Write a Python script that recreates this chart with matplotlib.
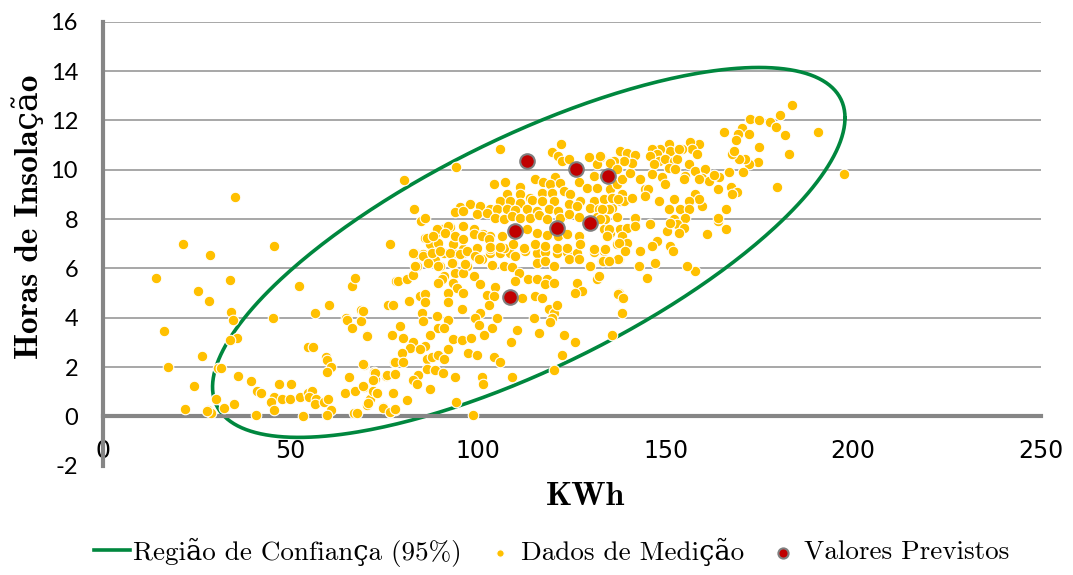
import matplotlib
matplotlib.use("Agg")
import matplotlib.pyplot as plt
import numpy as np

plt.rcParams['axes.unicode_minus'] = False

# pontos de medição - região esquerda (baixo consumo)
kwh_esq = [14.1, 16.3, 17.3, 21.3, 21.9, 24.3, 25.3, 26.4, 28.5, 28.3,
           33.9, 34.2, 34.7, 35.8, 33.9, 30.7, 31.5, 30.1, 28.0, 28.8,
           32.3, 35.0, 36.0, 39.5, 41.1, 42.2, 40.8, 45.6, 45.4, 52.3,
           56.6, 60.3, 54.7, 56.0, 47.0, 50.2, 45.6, 44.8, 45.6, 47.8,
           49.9, 52.6, 53.4, 54.7, 55.8, 55.0, 56.8, 56.6, 59.0, 60.0,
           60.8, 59.8, 59.5, 59.8, 60.8, 59.8, 65.6, 64.6, 67.2, 69.6,
           67.0, 67.8, 70.4, 71.2, 66.4, 67.2, 64.8, 65.1, 66.4, 68.8,
           68.8, 70.4, 69.6, 72.3, 72.6, 72.0, 73.1, 74.7, 76.6, 78.2,
           76.0, 77.4, 77.1, 77.6, 75.5, 77.4, 76.6, 77.9, 35.2, 80.2,
           27.7]
horas_esq = [5.6, 3.45, 2.0, 7.0, 0.3, 1.25, 5.1, 2.45, 6.55, 4.7,
             5.55, 4.25, 3.9, 3.2, 3.1, 1.95, 1.95, 0.7, 0.25, 0.15,
             0.35, 0.5, 1.65, 1.45, 1.05, 0.95, 0.05, 6.9, 4.0, 5.3,
             4.2, 4.5, 2.8, 2.8, 1.3, 1.3, 0.77, 0.6, 0.28, 0.7,
             0.7, 0.77, 0.0, 0.97, 1.05, 0.77, 0.7, 0.5, 0.6, 0.7,
             0.28, 0.05, 2.4, 2.3, 2.0, 1.8, 1.6, 0.97, 1.05, 1.2,
             0.12, 0.15, 0.48, 0.7, 5.3, 5.6, 4.0, 3.9, 3.6, 4.3,
             3.85, 3.3, 2.1, 1.8, 1.5, 1.05, 0.97, 0.37, 7.0, 5.5,
             4.5, 4.5, 3.3, 2.2, 1.65, 0.97, 0.17, 0.25, 8.9, 9.6,
             0.2]

# região central inferior
kwh_cen = [83.2, 85.4, 88.5, 90.8, 93.4, 96.1, 98.8, 101.0, 103.2, 105.9,
           108.5, 109.9, 112.6, 115.7, 117.9, 121.0, 123.7, 126.3, 130.8, 133.5,
           137.5, 83.6, 86.8, 88.5, 89.9, 93.4, 97.0, 103.7, 106.8, 109.0,
           110.8, 115.7, 117.9, 120.1, 124.1, 126.8, 129.9, 133.0, 134.3, 78.7,
           81.0, 82.7, 90.8, 90.3, 93.9, 96.1, 98.8, 89.4, 93.4, 94.3,
           100.5, 104.5, 109.9, 113.4, 115.7, 118.3, 117.9, 120.1, 126.3, 127.7,
           125.9, 131.7, 137.5, 138.4, 84.5, 85.9, 92.1, 96.1, 102.3, 104.1,
           76.1, 77.4, 81.7, 85.9, 92.1, 95.6, 100.5, 102.8, 111.7, 115.2,
           117.0, 118.8, 120.1, 121.0, 119.7, 119.2, 114.8, 105.0, 99.2, 100.1,
           103.7, 85.0, 85.4, 89.0, 92.1, 89.4, 90.8, 110.3, 116.1, 69.4,
           70.3, 77.0, 79.2, 80.1, 82.7, 81.9, 85.9, 87.2, 93.4, 95.6,
           98.0, 101.6, 108.8, 123.0, 125.9, 135.7, 138.4, 69.4, 79.6, 77.9,
           80.1, 84.5, 86.3, 87.6, 89.4, 90.8, 92.1, 97.4, 99.7, 104.1,
           105.9, 120.1, 122.3, 72.5, 72.1, 75.6, 77.9, 84.1, 82.7, 86.3,
           88.5, 90.6, 93.8, 83.6, 87.2, 101.0, 101.4, 109.0, 69.4, 73.0,
           77.4, 81.0, 70.7, 74.7, 76.5, 77.9, 94.1, 98.6]
horas_cen = [6.62, 6.58, 6.71, 6.64, 6.62, 6.62, 6.62, 6.40, 6.62, 6.62,
             6.64, 6.51, 6.71, 6.64, 6.67, 6.64, 6.67, 6.62, 6.67, 6.71,
             6.40, 6.10, 6.24, 6.35, 6.10, 6.21, 6.10, 6.13, 6.10, 6.04,
             5.81, 6.24, 6.31, 6.10, 6.40, 6.40, 6.10, 6.31, 6.31, 5.50,
             5.59, 5.73, 5.70, 5.56, 5.81, 5.81, 5.70, 5.43, 5.43, 5.19,
             5.36, 5.23, 5.50, 5.59, 5.59, 5.59, 5.36, 5.43, 5.43, 5.09,
             5.02, 5.59, 5.02, 4.82, 4.89, 4.96, 5.02, 5.02, 4.92, 4.89,
             4.51, 4.51, 4.70, 4.65, 4.62, 4.35, 4.21, 4.51, 4.79, 4.89,
             4.82, 4.37, 4.21, 4.51, 4.01, 3.81, 4.01, 4.01, 4.01, 3.70,
             3.60, 4.21, 3.87, 4.08, 3.92, 3.60, 3.60, 3.50, 3.40, 4.28,
             3.27, 3.29, 3.67, 3.20, 3.00, 2.79, 2.86, 3.29, 3.13, 3.10,
             3.20, 3.29, 3.00, 3.29, 3.00, 3.29, 4.21, 2.12, 2.59, 2.19,
             2.19, 2.73, 2.32, 2.39, 2.48, 2.32, 2.73, 2.59, 2.48, 2.39,
             2.19, 1.89, 2.48, 1.78, 1.48, 1.67, 1.71, 1.67, 1.48, 1.92,
             1.89, 1.78, 1.58, 1.31, 1.10, 1.58, 1.31, 1.60, 1.24, 0.97,
             0.97, 0.67, 0.54, 0.36, 0.16, 0.29, 0.59, 0.06]

# região central superior
kwh_sup = [105.9, 94.1, 83.0, 84.7, 85.9, 122.2, 119.7, 121.4, 122.3, 124.1,
           129.5, 132.7, 135.2, 137.9, 131.7, 130.8, 133.5, 104.1, 107.2, 111.2,
           115.2, 117.4, 120.6, 119.2, 121.9, 126.8, 129.0, 131.7, 135.2, 137.0,
           138.4, 107.7, 111.2, 113.9, 117.0, 119.7, 122.8, 124.6, 105.9, 108.5,
           111.2, 114.3, 117.0, 120.1, 124.1, 127.2, 130.8, 133.5, 135.7, 137.9,
           95.2, 97.9, 100.5, 103.2, 105.0, 107.7, 109.9, 113.0, 115.7, 118.8,
           121.4, 126.3, 129.9, 132.1, 135.7, 93.9, 96.1, 99.6, 102.3, 104.5,
           106.8, 109.0, 111.2, 113.9, 116.1, 118.3, 121.9, 124.1, 126.8, 131.7,
           133.5, 137.0, 85.9, 88.5, 90.3, 92.4, 96.1, 98.8, 101.4, 103.2,
           106.3, 113.0, 115.7, 118.3, 121.4, 123.7, 126.8, 133.5, 135.2, 137.9,
           83.2, 87.2, 89.4, 93.4, 96.1, 99.6, 103.2, 106.8, 109.4, 112.1,
           115.2, 117.9, 121.0, 123.7, 127.2, 130.8, 133.9, 137.0, 92.1, 89.0,
           86.3, 88.1, 91.2, 93.9, 96.1, 98.8, 101.0, 102.8, 82.7, 85.4,
           87.6, 89.9, 92.5, 95.2, 97.0, 99.2, 103.2, 105.9, 83.2, 86.7,
           89.4, 93.0, 96.5, 100.1]
horas_sup = [10.83, 10.11, 8.42, 7.92, 8.06, 11.03, 10.72, 10.56, 10.36, 10.42,
             10.53, 10.53, 10.33, 10.72, 10.22, 9.75, 9.75, 9.44, 9.52, 9.32,
             9.61, 9.50, 9.71, 9.41, 9.48, 9.52, 9.28, 9.28, 9.21, 9.41,
             9.61, 9.00, 9.00, 8.87, 9.07, 9.07, 9.14, 9.00, 8.73, 8.73,
             8.64, 8.77, 8.73, 8.73, 8.60, 8.73, 8.73, 8.80, 8.87, 8.73,
             8.50, 8.60, 8.53, 8.40, 8.40, 8.40, 8.37, 8.40, 8.33, 8.42,
             8.33, 8.53, 8.47, 8.40, 8.47, 8.29, 8.33, 8.20, 8.26, 8.06,
             7.99, 8.13, 8.06, 8.06, 8.15, 7.99, 8.06, 8.20, 8.10, 8.10,
             8.02, 8.10, 7.25, 7.38, 7.59, 7.70, 7.72, 7.61, 7.38, 7.32,
             7.32, 7.59, 7.45, 7.34, 7.32, 7.38, 7.32, 7.59, 7.45, 7.59,
             6.57, 6.98, 7.05, 6.98, 6.77, 6.84, 6.77, 6.84, 6.98, 6.84,
             6.98, 6.91, 6.84, 6.84, 6.98, 6.77, 6.77, 6.98, 7.72, 7.59,
             7.25, 7.32, 7.45, 7.32, 7.18, 7.39, 7.32, 7.18, 6.62, 6.51,
             6.64, 6.71, 6.64, 6.57, 6.71, 6.51, 6.85, 6.85, 6.10, 6.24,
             6.10, 6.24, 6.17, 6.37]

# região direita (alto consumo)
kwh_dir = [183.7, 180.6, 177.9, 179.5, 181.9, 190.5, 172.6, 175.0, 170.4, 172.3,
           169.3, 168.8, 165.6, 174.8, 183.0, 174.6, 172.1, 170.5, 171.2, 169.5,
           167.7, 168.1, 197.5, 179.7, 166.8, 164.3, 163.9, 167.3, 169.0, 167.7,
           166.2, 163.9, 163.9, 166.1, 161.0, 157.9, 155.7, 158.8, 156.6, 157.0,
           158.3, 154.3, 151.0, 151.2, 148.6, 146.3, 147.7, 148.1, 145.9, 146.8,
           149.9, 152.1, 153.0, 153.5, 150.8, 152.6, 156.1, 155.2, 157.9, 160.6,
           159.7, 161.5, 158.8, 162.8, 154.8, 146.3, 149.0, 149.9, 144.6, 145.4,
           143.2, 140.6, 137.9, 139.7, 141.9, 141.0, 138.8, 136.1, 135.2, 137.0,
           132.5, 157.9, 159.7, 158.8, 156.1, 153.9, 156.1, 150.8, 152.1, 148.1,
           144.6, 155.2, 152.1, 153.0, 154.8, 153.5, 150.3, 151.2, 145.9, 141.9,
           139.7, 141.9, 138.3, 135.7, 134.8, 133.0, 133.9, 132.5, 134.8, 134.3,
           138.3, 138.8, 141.0, 137.4, 147.7, 146.3, 151.2, 151.9, 143.2, 139.7,
           137.6, 137.4, 139.2, 133.9, 133.4, 134.8, 142.8, 147.2, 145.0, 132.1,
           137.4, 138.5]
horas_dir = [12.63, 12.22, 11.94, 11.72, 11.41, 11.54, 12.05, 12.02, 11.71, 11.44,
             11.44, 11.21, 11.54, 10.93, 10.63, 10.32, 10.22, 9.91, 10.43, 10.43,
             10.63, 10.77, 9.82, 9.32, 9.91, 9.72, 9.21, 9.32, 9.10, 9.01,
             8.40, 7.93, 8.06, 7.62, 7.41, 5.90, 6.10, 11.04, 11.13, 10.83,
             10.63, 10.83, 11.04, 10.77, 10.86, 10.83, 10.63, 10.36, 10.56, 10.22,
             10.43, 10.36, 10.43, 10.83, 10.09, 10.02, 10.22, 9.75, 9.95, 10.02,
             9.68, 9.55, 9.62, 9.78, 9.62, 9.82, 9.72, 9.41, 9.21, 9.21,
             9.62, 9.89, 10.77, 10.70, 10.59, 10.29, 10.36, 10.36, 10.29, 10.02,
             10.56, 9.01, 8.54, 8.80, 8.74, 8.40, 8.40, 8.40, 8.80, 8.74,
             8.94, 8.06, 8.00, 7.79, 7.66, 7.45, 7.52, 7.86, 7.79, 8.06,
             7.66, 7.72, 7.32, 8.87, 8.40, 8.40, 8.00, 8.00, 7.59, 7.32,
             9.01, 8.74, 8.87, 8.80, 7.12, 6.91, 6.91, 6.71, 6.71, 7.02,
             7.02, 6.40, 6.71, 6.78, 6.30, 6.30, 6.10, 6.21, 5.63, 5.70,
             4.95, 4.82]

# valores previstos
kwh_prev = [112.9, 126.2, 134.5, 109.7, 120.9, 129.7, 108.6]
horas_prev = [10.34, 10.02, 9.74, 7.51, 7.63, 7.83, 4.83]

# região de confiança 95% (centro e matriz de dispersão)
centro = [113.5, 6.65]
dispersao = [[84.3 ** 2, 460.0], [460.0, 7.5 ** 2]]

x_ticks = [0, 50, 100, 150, 200, 250]
y_ticks = list(range(-2, 17, 2))

kwh = kwh_esq + kwh_cen + kwh_sup + kwh_dir
horas = horas_esq + horas_cen + horas_sup + horas_dir

serif = ['cmr10', 'DejaVu Serif']
serif_b = ['cmb10', 'DejaVu Serif']

fig = plt.figure(figsize=(10.73, 5.75), dpi=100)
ax = fig.add_axes([0.096, 0.190, 0.874, 0.772])

# elipse de confiança
t = np.linspace(0, 2 * np.pi, 400)
L = np.linalg.cholesky(np.array(dispersao))
elip = np.array(centro)[:, None] + L @ np.vstack([np.cos(t), np.sin(t)])
ax.plot(elip[0], elip[1], color='#00873E', lw=2.6, zorder=2,
        label='Região de Confiança (95%)')

ax.scatter(kwh, horas, s=58, color='#FFC000', edgecolors='white', linewidths=0.8,
           zorder=3, label='Dados de Medição')
ax.scatter(kwh_prev, horas_prev, s=110, color='#C00000', edgecolors='#7F7F7F',
           linewidths=1.5, zorder=4, label='Valores Previstos')

ax.set_xlim(0, 250)
ax.set_ylim(-2, 16)
ax.set_xticks(x_ticks)
ax.set_yticks(y_ticks)
ax.tick_params(length=0, labelsize=17)
ax.tick_params(axis='x', pad=16)
ax.tick_params(axis='y', pad=18)
for lb in ax.get_xticklabels() + ax.get_yticklabels():
    lb.set_fontfamily('Lato')

ax.yaxis.grid(True, color='#A0A0A0', lw=1.3)
ax.yaxis.get_gridlines()[0].set_visible(False)
ax.set_axisbelow(True)

for s in ['top', 'right']:
    ax.spines[s].set_visible(False)
ax.spines['bottom'].set_position(('data', 0))
ax.spines['bottom'].set_color('#868686')
ax.spines['bottom'].set_linewidth(3)
ax.spines['left'].set_color('#868686')
ax.spines['left'].set_linewidth(3)

ax.set_xlabel('KWh', fontsize=24, family=serif_b)
ax.xaxis.set_label_coords(0.514, -0.07)
ax.xaxis.label.set_va('center')
ax.set_ylabel('Horas de Insolação', fontsize=24, family=serif_b)
ax.yaxis.set_label_coords(-0.080, 0.561)
ax.yaxis.label.set_va('center')

leg = ax.legend(loc='center', bbox_to_anchor=(0.478, -0.195), ncol=3, frameon=False,
                handlelength=1.35, handletextpad=0.1, columnspacing=0.75,
                prop={'family': serif, 'size': 19.5}, markerscale=0.7)

fig.savefig('out.png', dpi=100)
